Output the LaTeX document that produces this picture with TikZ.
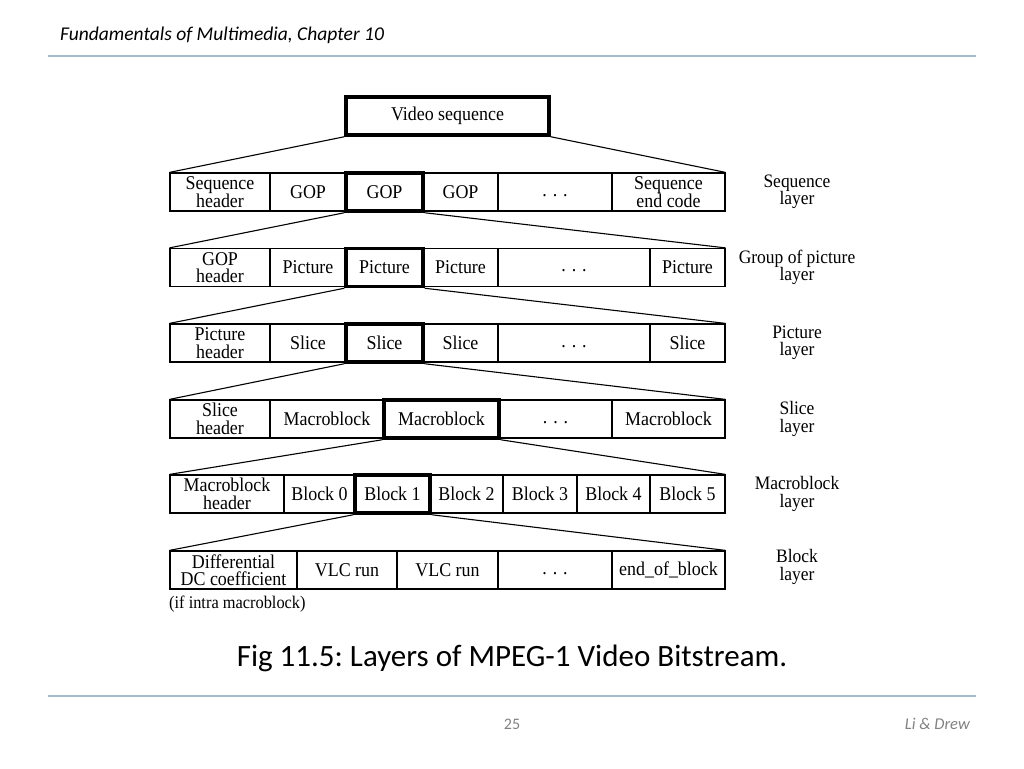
\documentclass[tikz,border=0pt]{standalone}
\usepackage{fontspec}
\setmainfont{Liberation Serif}
\newfontfamily\cellfont[FakeStretch=0.92]{Liberation Serif}
\newfontfamily\slidefont{Carlito}
\definecolor{rulecol}{RGB}{165,186,200}
\definecolor{footgray}{RGB}{130,130,130}
\lineskiplimit=-30pt\relax
\begin{document}
\begin{tikzpicture}[x=1pt,y=-1pt,
  cell/.style={draw, line width=1.2pt, inner sep=0pt, minimum height=38pt, align=center,
    font=\cellfont\fontsize{19.5}{17.5}\selectfont},
  thickcell/.style={cell, line width=3.5pt},
  fan/.style={line width=1.1pt},
  layerlbl/.style={align=center, inner sep=0pt, font=\cellfont\fontsize{19}{17.5}\selectfont},
  rulel/.style={draw=rulecol, line width=1.8pt}]
\useasboundingbox (0,0) rectangle (1024,768);
\fill[white] (0,0) rectangle (1024,768);

% slide header and footer
\node[anchor=west, inner sep=0pt, font=\slidefont\itshape\fontsize{19.5}{22}\selectfont] (hdr) at (60,35) {Fundamentals of Multimedia, Chapter 10};
\coordinate (hl) at (48,56); \coordinate (hr) at (976,56);
\draw[rulel] (hl) -- (hr);
\coordinate (fl) at (48,696); \coordinate (fr) at (976,696);
\draw[rulel] (fl) -- (fr);
\node[inner sep=0pt, text=footgray, font=\slidefont\fontsize{16}{18}\selectfont] (pnum) at (512,724) {25};
\node[anchor=east, inner sep=0pt, text=footgray, font=\slidefont\itshape\fontsize{16.5}{18}\selectfont] (auth) at (970,724) {Li \& Drew};
\node[inner sep=0pt, font=\slidefont\fontsize{31}{34}\selectfont\frenchspacing] (title) at (512,658) {Fig 11.5: Layers of MPEG-1 Video Bitstream.};

% video sequence
\node[thickcell, minimum width=203pt] (vs) at (447.5,116) {Video sequence};

% row 1: sequence layer
\node[cell, minimum width=100pt] (r1a) at (220,192) {Sequence\\header};
\node[cell, minimum width=76pt] (r1b) at (308,192) {GOP};
\node[cell, minimum width=75pt] (r1d) at (460.5,192) {GOP};
\node[cell, minimum width=114pt] (r1e) at (555,192) {\vphantom{Ag}. . .};
\node[cell, minimum width=113pt] (r1f) at (668.5,192) {Sequence\\end code};
\node[thickcell, minimum width=77pt] (r1c) at (384.5,192) {GOP};

% row 2: GOP layer
\node[cell, minimum width=100pt] (r2a) at (220,267.5) {GOP\\header};
\node[cell, minimum width=76pt] (r2b) at (308,267.5) {Picture};
\node[cell, minimum width=75pt] (r2d) at (460.5,267.5) {Picture};
\node[cell, minimum width=152pt] (r2e) at (574,267.5) {\vphantom{Ag}. . .};
\node[cell, minimum width=75pt] (r2f) at (687.5,267.5) {Picture};
\node[thickcell, minimum width=77pt] (r2c) at (384.5,267.5) {Picture};

% row 3: picture layer
\node[cell, minimum width=100pt] (r3a) at (220,343) {Picture\\header};
\node[cell, minimum width=76pt] (r3b) at (308,343) {Slice};
\node[cell, minimum width=75pt] (r3d) at (460.5,343) {Slice};
\node[cell, minimum width=152pt] (r3e) at (574,343) {\vphantom{Ag}. . .};
\node[cell, minimum width=75pt] (r3f) at (687.5,343) {Slice};
\node[thickcell, minimum width=77pt] (r3c) at (384.5,343) {Slice};

% row 4: slice layer
\node[cell, minimum width=100pt] (r4a) at (220,419) {Slice\\header};
\node[cell, minimum width=114pt] (r4b) at (327,419) {Macroblock};
\node[cell, minimum width=113pt] (r4d) at (555.5,419) {\vphantom{Ag}. . .};
\node[cell, minimum width=113pt] (r4e) at (668.5,419) {Macroblock};
\node[thickcell, minimum width=115pt] (r4c) at (441.5,419) {Macroblock};

% row 5: macroblock layer
\node[cell, minimum width=114pt] (r5a) at (227,494) {Macroblock\\header};
\node[cell, minimum width=71pt] (r5b) at (319.5,494) {Block 0};
\node[cell, minimum width=73pt] (r5d) at (466.5,494) {Block 2};
\node[cell, minimum width=74pt] (r5e) at (540,494) {Block 3};
\node[cell, minimum width=73pt] (r5f) at (613.5,494) {Block 4};
\node[cell, minimum width=75pt] (r5g) at (687.5,494) {Block 5};
\node[thickcell, minimum width=75pt] (r5c) at (392.5,494) {Block 1};

% row 6: block layer
\node[cell, minimum width=127pt] (r6a) at (233.5,570) {Differential\\DC coefficient};
\node[cell, minimum width=100pt] (r6b) at (347,570) {VLC run};
\node[cell, minimum width=101pt] (r6c) at (447.5,570) {VLC run};
\node[cell, minimum width=114pt] (r6d) at (555,570) {\vphantom{Ag}. . .};
\node[cell, minimum width=113pt] (r6e) at (668.5,570) {end\_of\_block};
\node[anchor=west, inner sep=0pt, font=\cellfont\fontsize{17.8}{18}\selectfont] (intra) at (169,604) {(if intra macroblock)};

% fan lines
\draw[fan] (vs.south west) -- (r1a.north west);
\draw[fan] (vs.south east) -- (r1f.north east);
\draw[fan] (r1c.south west) -- (r2a.north west);
\draw[fan] (r1c.south east) -- (r2f.north east);
\draw[fan] (r2c.south west) -- (r3a.north west);
\draw[fan] (r2c.south east) -- (r3f.north east);
\draw[fan] (r3c.south west) -- (r4a.north west);
\draw[fan] (r3c.south east) -- (r4e.north east);
\draw[fan] (r4c.south west) -- (r5a.north west);
\draw[fan] (r4c.south east) -- (r5g.north east);
\draw[fan] (r5c.south west) -- (r6a.north west);
\draw[fan] (r5c.south east) -- (r6e.north east);

% layer labels
\node[layerlbl] (l1) at (797,192) {Sequence\\layer};
\node[layerlbl] (l2) at (797,267.5) {Group of picture\\layer};
\node[layerlbl] (l3) at (797,343) {Picture\\layer};
\node[layerlbl] (l4) at (797,419) {Slice\\layer};
\node[layerlbl] (l5) at (797,494) {Macroblock\\layer};
\node[layerlbl] (l6) at (797,567) {Block\\layer};
\end{tikzpicture}
\end{document}
